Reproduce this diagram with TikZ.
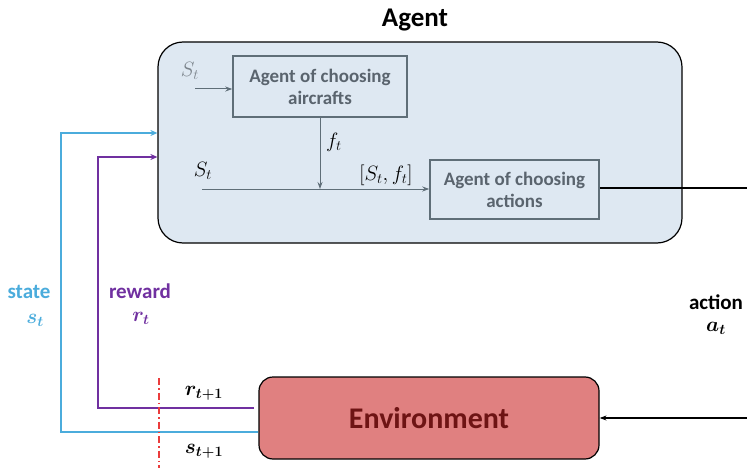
\documentclass[tikz,border=0pt]{standalone}
\usepackage{fontspec}
\setmainfont{Carlito}
\usepackage{amsmath,bm}
\usetikzlibrary{arrows.meta}
\definecolor{agentfill}{RGB}{222,232,242}
\definecolor{graybox}{RGB}{95,110,120}
\definecolor{graytext}{RGB}{90,100,110}
\definecolor{stateblue}{RGB}{75,172,220}
\definecolor{rewardpurple}{RGB}{112,48,160}
\definecolor{envfill}{RGB}{224,128,128}
\definecolor{envtext}{RGB}{110,20,20}
\definecolor{dashred}{RGB}{235,60,60}
\tikzset{
  innerbox/.style={draw=graybox, line width=1.5pt, fill=agentfill, text=graytext, font=\fontsize{19}{22}\selectfont\bfseries, align=center, inner sep=0pt},
  grayarrow/.style={draw=graybox, line width=1pt, -{Stealth[length=7pt,width=5pt]}},
  fb/.style={line width=1.8pt, -{Stealth[length=7pt,width=6pt]}},
  mathlab/.style={font=\fontsize{22}{24}\selectfont},
  biglab/.style={font=\fontsize{21}{24}\selectfont\bfseries},
}
\begin{document}
\begin{tikzpicture}[x=1pt,y=-1pt]
\useasboundingbox (0,0) rectangle (747,468);
% agent container
\node[draw=black, line width=1.2pt, fill=agentfill, rounded corners=25pt, minimum width=524pt, minimum height=201pt, inner sep=0pt] (agent) at (420,142.5) {};
\node[font=\fontsize{27}{30}\selectfont\bfseries] (agenttitle) at (415,20) {Agent};
% inner boxes
\node[innerbox, minimum width=174pt, minimum height=61pt] (b1) at (320,86.5) {Agent of choosing\\aircrafts};
\node[innerbox, minimum width=169pt, minimum height=59pt] (b2) at (514.5,189.5) {Agent of choosing\\actions};
\coordinate (s1in) at (195,89);
\draw[grayarrow] (s1in) -- (s1in -| b1.west);
\node[text=graytext!80, mathlab] (s1lab) at (190,71) {$S_t$};
\coordinate (s2in) at (202,189);
\coordinate (merge) at (320,189);
\draw[graybox, line width=1pt] (s2in) -- (merge);
\draw[grayarrow] (merge) -- (b2.west |- merge);
\draw[grayarrow] (b1.south) -- (merge);
\node[mathlab] (s2lab) at (203,171) {$S_t$};
\node[mathlab] (ftlab) at (334,142) {$f_t$};
\node[mathlab] (sflab) at (386,175) {$[S_t, f_t]$};
% environment
\node[draw=black, line width=1.2pt, fill=envfill, rounded corners=14pt, minimum width=340pt, minimum height=82pt, inner sep=0pt, text=envtext, font=\fontsize{30}{34}\selectfont\bfseries] (env) at (429,418) {Environment};
% action
\coordinate (actout) at (747,188);
\coordinate (actin) at (747,418);
\draw[black, line width=1.6pt] (b2.east |- actout) -- (actout);
\draw[black, line width=1.2pt, -{Stealth[length=7pt,width=5pt]}] (actin) -- (env.east |- actin);
\node[biglab] (actlab) at (716,302) {action};
\node[mathlab] (atlab) at (716,328) {$\bm{a_t}$};
% state feedback
\coordinate (sb1) at (61,432);
\coordinate (sb2) at (61,133);
\draw[stateblue, fb] (env.west |- sb1) -- (sb1) -- (sb2) -- (agent.west |- sb2);
\node[text=stateblue, biglab] (statelab) at (29,292) {state};
\node[text=stateblue, mathlab] (stlab) at (35,320) {$\bm{s_t}$};
% reward feedback
\coordinate (rb0) at (254,408);
\coordinate (rb1) at (98,408);
\coordinate (rb2) at (98,157);
\draw[rewardpurple, fb] (rb0) -- (rb1) -- (rb2) -- (agent.west |- rb2);
\node[text=rewardpurple, biglab] (rewlab) at (140,291) {reward};
\node[text=rewardpurple, mathlab] (rtlab) at (141,318) {$\bm{r_t}$};
% labels
\node[mathlab] (rt1) at (204,393) {$\bm{r_{t+1}}$};
\node[mathlab] (st1) at (204,451) {$\bm{s_{t+1}}$};
% dashed separator
\coordinate (d1) at (159,378);
\coordinate (d2) at (159,468);
\draw[dashred, line width=1.3pt, dash pattern=on 7pt off 3pt on 1.5pt off 3pt] (d1) -- (d2);
\end{tikzpicture}
\end{document}
